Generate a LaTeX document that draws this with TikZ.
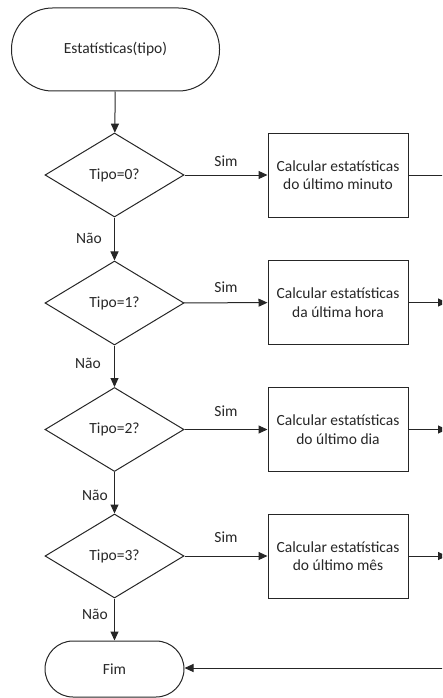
\documentclass[tikz,border=0pt]{standalone}
\usepackage{fontspec}
\setmainfont{Carlito}
\usetikzlibrary{shapes.geometric,arrows.meta}
\begin{document}
\begin{tikzpicture}[x=1pt,y=-1pt,
  every node/.style={font=\fontsize{15.5}{18.5}\selectfont, text=black!85},
  base/.style={draw=black!85, line width=1pt, inner sep=0pt},
  terminal/.style={base, rectangle, rounded corners=#1},
  decision/.style={base, diamond, minimum width=139pt, minimum height=84pt},
  process/.style={base, rectangle, minimum width=140pt, minimum height=84pt, align=center},
  lbl/.style={inner sep=0pt},
  arr/.style={draw=black!85, line width=1pt, -{Triangle[length=9pt,width=8pt]}},
  ln/.style={draw=black!85, line width=1pt}]
  \useasboundingbox (0,0) rectangle (442,698);
  \clip (0,0) rectangle (442,698);

  % terminals
  \node[terminal=41pt, minimum width=208pt, minimum height=83pt] (start) at (115.5,49.5) {Estatísticas(tipo)};
  \node[terminal=28pt, minimum width=139pt, minimum height=56pt] (fim) at (114.5,669) {Fim};

  % decisions
  \node[decision] (d0) at (114.5,175) {Tipo=0?};
  \node[decision] (d1) at (114.5,303) {Tipo=1?};
  \node[decision] (d2) at (114.5,429.5) {Tipo=2?};
  \node[decision] (d3) at (114.5,556) {Tipo=3?};

  % processes
  \node[process] (b0) at (338,175) {Calcular estatísticas\\do último minuto};
  \node[process] (b1) at (338,302.5) {Calcular estatísticas\\da última hora};
  \node[process] (b2) at (338,429.5) {Calcular estatísticas\\do último dia};
  \node[process] (b3) at (338,556) {Calcular estatísticas\\do último mês};

  % exits to the right border
  \coordinate (e0) at (446,175);
  \coordinate (e1) at (447,302.5);
  \coordinate (e2) at (447,429.5);
  \coordinate (e3) at (447,556);
  \coordinate (ret) at (446,668);

  % main flow
  \draw[arr] (start) -- (d0);
  \draw[arr] (d0) -- (d1);
  \draw[arr] (d1) -- (d2);
  \draw[arr] (d2) -- (d3);
  \draw[arr] (d3) -- (fim);

  % yes branches
  \draw[arr] (d0) -- (b0);
  \draw[arr] (d1) -- (b1);
  \draw[arr] (d2) -- (b2);
  \draw[arr] (d3) -- (b3);

  \draw[ln] (b0) -- (e0);
  \draw[arr] (b1) -- (e1);
  \draw[arr] (b2) -- (e2);
  \draw[arr] (b3) -- (e3);

  % return into the end node
  \draw[arr] (ret) -- (fim.east |- ret);

  % labels
  \node[lbl] (s0) at (226,161) {Sim};
  \node[lbl] (s1) at (226,287) {Sim};
  \node[lbl] (s2) at (226,411) {Sim};
  \node[lbl] (s3) at (226,537) {Sim};
  \node[lbl] (n0) at (89,238) {Não};
  \node[lbl] (n1) at (88,363) {Não};
  \node[lbl] (n2) at (95,495) {Não};
  \node[lbl] (n3) at (95,614) {Não};
\end{tikzpicture}
\end{document}
